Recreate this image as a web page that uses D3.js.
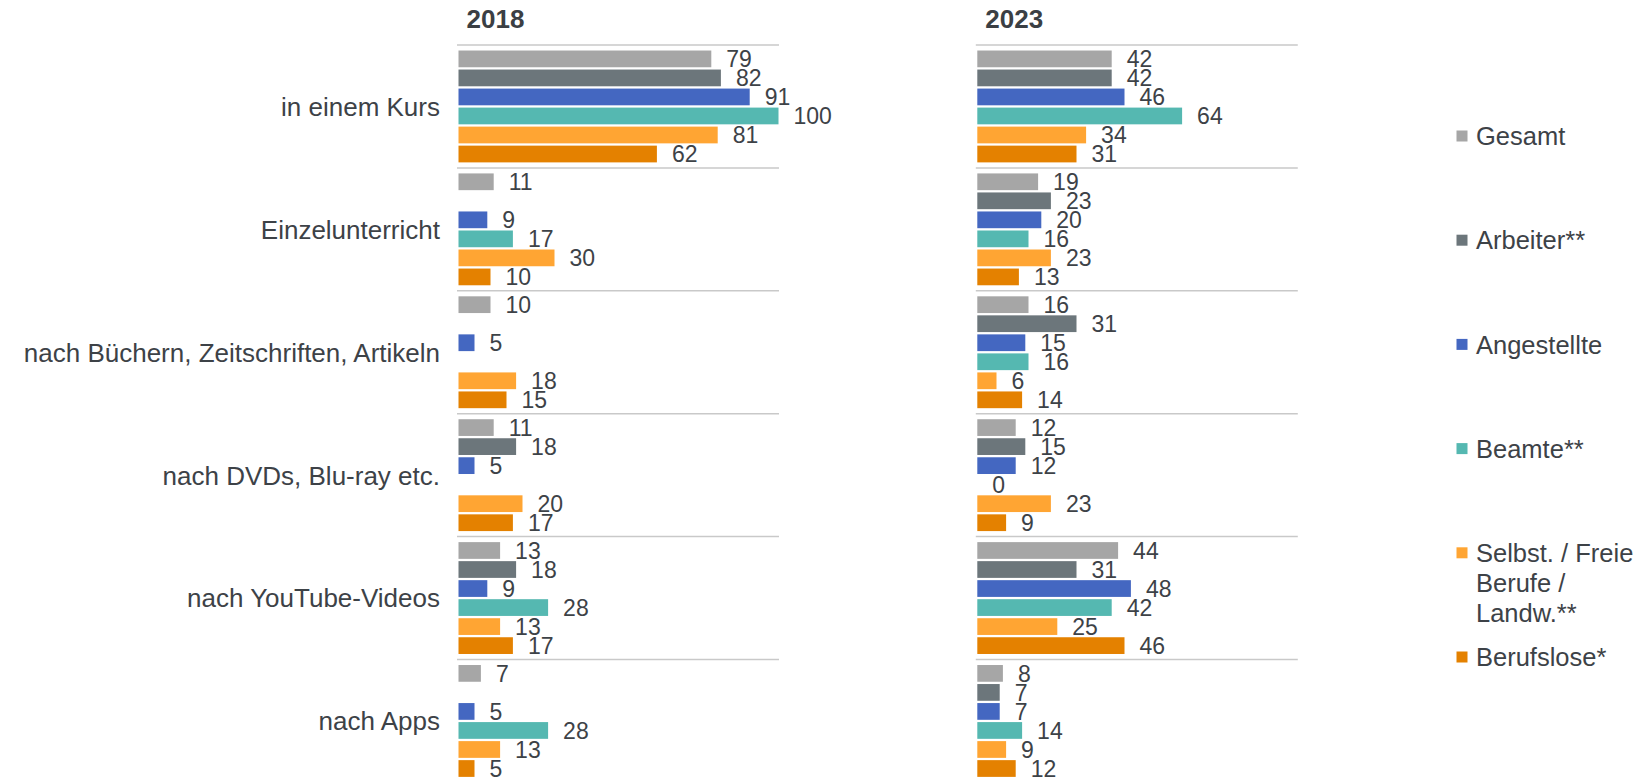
<!DOCTYPE html>
<html>
<head>
<meta charset="utf-8">
<script src="https://cdn.jsdelivr.net/npm/d3@7"></script>
<style>
  body { margin: 0; background: #fff; }
  text { font-family: "Liberation Sans", Arial, sans-serif; fill: #3d4247; }
</style>
</head>
<body>
<script>
// Lernformen nach Berufsgruppe, 2018 vs 2023
var categories = ["in einem Kurs", "Einzelunterricht", "nach Büchern, Zeitschriften, Artikeln",
                  "nach DVDs, Blu-ray etc.", "nach YouTube-Videos", "nach Apps"];
var seriesNames = ["Gesamt", "Arbeiter**", "Angestellte", "Beamte**", "Selbst. / Freie Berufe / Landw.**", "Berufslose*"];
var legendLines = [["Gesamt"], ["Arbeiter**"], ["Angestellte"], ["Beamte**"], ["Selbst. / Freie", "Berufe /", "Landw.**"], ["Berufslose*"]];
var colors = ["#a6a6a6", "#6c767b", "#4467c1", "#55b8b1", "#ffa533", "#e48100"];
var years = ["2018", "2023"];

// one row per series, one value per category (null = no bar)
var values2018 = [
  [79, 11, 10, 11, 13, 7],
  [82, null, null, 18, 18, null],
  [91, 9, 5, 5, 9, 5],
  [100, 17, null, null, 28, 28],
  [81, 30, 18, 20, 13, 13],
  [62, 10, 15, 17, 17, 5]
];
var values2023 = [
  [42, 19, 16, 12, 44, 8],
  [42, 23, 31, 15, 31, 7],
  [46, 20, 15, 12, 48, 7],
  [64, 16, 16, 0, 42, 14],
  [34, 23, 6, 23, 25, 9],
  [31, 13, 14, 9, 46, 12]
];

var W = 1642, H = 780;
var svg = d3.select("body").append("svg").attr("width", W).attr("height", H);

var y0 = d3.scaleBand().domain(categories).range([45, 45 + 122.9 * 6]);
var y1 = d3.scaleBand().domain(seriesNames).range([0, y0.bandwidth()])
  .paddingInner(0.12).paddingOuter(0.29);

var panels = [
  {year: years[0], values: values2018, x0: 458.5},
  {year: years[1], values: values2023, x0: 977.3}
];

panels.forEach(function(p) {
  var x = d3.scaleLinear().domain([0, 100]).range([p.x0, p.x0 + 320]);
  var g = svg.append("g");

  g.append("text").attr("x", p.x0 + 8).attr("y", 28)
    .style("font-size", "26px").style("font-weight", "bold").style("fill", "#3b3f44")
    .text(p.year);

  g.selectAll("line.sep").data(categories).enter().append("line")
    .attr("x1", p.x0 - 1.5).attr("x2", p.x0 + 320.5)
    .attr("y1", function(c) { return y0(c); }).attr("y2", function(c) { return y0(c); })
    .attr("stroke", "#c9c9c9").attr("stroke-width", 1.5);

  var cells = [];
  p.values.forEach(function(row, si) {
    row.forEach(function(v, ci) {
      if (v !== null) cells.push({s: seriesNames[si], c: categories[ci], v: v, color: colors[si]});
    });
  });

  g.selectAll("rect").data(cells).enter().append("rect")
    .attr("x", x(0))
    .attr("y", function(d) { return y0(d.c) + y1(d.s); })
    .attr("width", function(d) { return x(d.v) - x(0); })
    .attr("height", y1.bandwidth())
    .attr("fill", function(d) { return d.color; });

  g.selectAll("text.val").data(cells).enter().append("text")
    .attr("class", "val")
    .attr("x", function(d) { return x(d.v) + 15; })
    .attr("y", function(d) { return y0(d.c) + y1(d.s) + y1.bandwidth() / 2; })
    .attr("dy", "0.36em")
    .style("font-size", "23px")
    .text(function(d) { return d.v; });
});

svg.selectAll("text.cat").data(categories).enter().append("text")
  .attr("class", "cat")
  .attr("x", 440)
  .attr("y", function(c) { return y0(c) + y0.bandwidth() / 2; })
  .attr("dy", "0.36em")
  .attr("text-anchor", "end")
  .style("font-size", "26px")
  .text(function(c) { return c; });

var legend = svg.selectAll("g.leg").data(seriesNames).enter().append("g")
  .attr("transform", function(d, i) { return "translate(1456.5," + (136 + i * 104.2) + ")"; });
legend.append("rect").attr("x", 0).attr("y", -5.5).attr("width", 11).attr("height", 11)
  .attr("fill", function(d, i) { return colors[i]; });
legend.append("text").attr("x", 19.5).style("font-size", "25.5px")
  .each(function(d, i) {
    var t = d3.select(this);
    legendLines[i].forEach(function(line, li) {
      t.append("tspan").attr("x", 19.5).attr("y", li * 30).attr("dy", "0.36em").text(line);
    });
  });
</script>
</body>
</html>
